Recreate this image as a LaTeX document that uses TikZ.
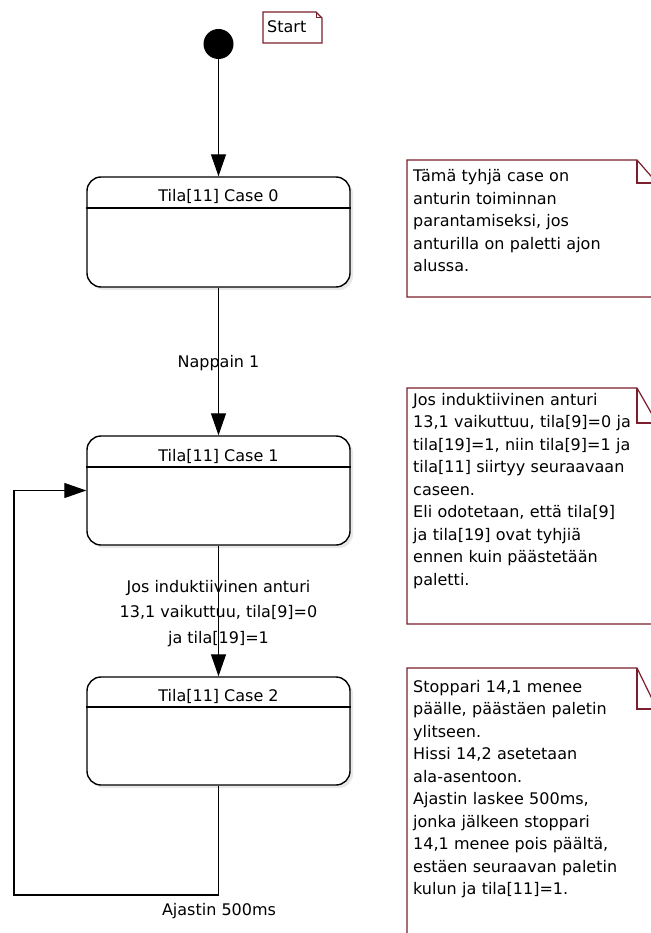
\documentclass[tikz,border=0pt]{standalone}
\usepackage{fontspec}
\setmainfont{DejaVu Sans}
\usetikzlibrary{arrows.meta,shadows}
\definecolor{noteline}{HTML}{7A1F2B}
\begin{document}
\begin{tikzpicture}[x=1pt,y=-1pt,
  txt/.style={font=\fontsize{16}{22.5}\selectfont, inner sep=0pt},
  statebox/.style={draw, line width=1.4pt, rounded corners=14pt, minimum width=263pt,
    inner sep=0pt, fill=white,
    drop shadow={shadow xshift=3pt, shadow yshift=-3pt, fill=gray!35}},
  flow/.style={line width=1.2pt, -{Triangle[length=22pt,width=15pt]}},
  notebox/.style={draw=noteline, line width=1.2pt, fill=white},
  notetext/.style={txt, anchor=base west, text width=235pt, align=left},
  edgelabel/.style={txt, anchor=base, align=center}
]
\useasboundingbox (0,0) rectangle (650,933);

% initial pseudo-state and start note
\node[circle, fill=black, minimum size=30pt, inner sep=0pt] (init) at (218.5,44) {};
\draw[notebox] (263,12) -- (316,12) -- (322,18) -- (322,43) -- (263,43) -- cycle;
\draw[draw=noteline, line width=1pt] (316,12) -- (316,18) -- (322,18);
\node[txt, anchor=base west] (startnote) at (267,33) {Start};

% states
\node[statebox, minimum height=110pt] (s0) at (218.5,232) {};
\node[statebox, minimum height=109pt] (s1) at (218.5,490.5) {};
\node[statebox, minimum height=108pt] (s2) at (218.5,731) {};

\draw[line width=1.4pt] (s0.west |- 0,208) -- (s0.east |- 0,208);
\draw[line width=1.4pt] (s1.west |- 0,467) -- (s1.east |- 0,467);
\draw[line width=1.4pt] (s2.west |- 0,707) -- (s2.east |- 0,707);

\node[txt, anchor=base] (h0) at (218.5,202) {Tila[11] Case 0};
\node[txt, anchor=base] (h1) at (218.5,461) {Tila[11] Case 1};
\node[txt, anchor=base] (h2) at (218.5,701) {Tila[11] Case 2};

% transitions
\draw[flow] (init) -- (s0);
\node[edgelabel] (l01) at (218.5,367) {Nappain 1};
\draw[flow] (s0) -- (s1);
\node[edgelabel] (l12a) at (218.5,592) {Jos induktiivinen anturi};
\node[edgelabel] (l12b) at (218.5,617) {13,1 vaikuttuu, tila[9]=0};
\node[edgelabel] (l12c) at (218.5,643) {ja tila[19]=1};
\draw[flow] (s1) -- (s2);

\coordinate (loopcorner) at (14,895);
\draw[flow] (s2.south) |- (loopcorner) |- (s1.west);
\node[edgelabel] (l21) at (219,915) {Ajastin 500ms};

% notes
\draw[notebox] (407,160) -- (637,160) -- (657,183) -- (657,297) -- (407,297) -- cycle;
\draw[draw=noteline, line width=1.2pt] (637,160) -- (637,183) -- (657,183);
\node[notetext] (n0) at (413,182) {Tämä tyhjä case on\\anturin toiminnan\\parantamiseksi, jos\\anturilla on paletti ajon\\alussa.};

\draw[notebox] (407,388) -- (637,388) -- (657,423) -- (657,624) -- (407,624) -- cycle;
\draw[draw=noteline, line width=1.2pt] (637,388) -- (637,423) -- (657,423);
\node[notetext] (n1) at (413,405) {Jos induktiivinen anturi\\13,1 vaikuttuu, tila[9]=0 ja\\tila[19]=1, niin tila[9]=1 ja\\tila[11] siirtyy seuraavaan\\caseen.\\Eli odotetaan, että tila[9]\\ja tila[19] ovat tyhjiä\\ennen kuin päästetään\\paletti.};

\draw[notebox] (407,668) -- (637,668) -- (657,709) -- (657,940) -- (407,940) -- cycle;
\draw[draw=noteline, line width=1.2pt] (637,668) -- (637,709) -- (657,709);
\node[notetext] (n2) at (413,692) {Stoppari 14,1 menee\\päälle, päästäen paletin\\ylitseen.\\Hissi 14,2 asetetaan\\ala-asentoon.\\Ajastin laskee 500ms,\\jonka jälkeen stoppari\\14,1 menee pois päältä,\\estäen seuraavan paletin\\kulun ja tila[11]=1.};
\end{tikzpicture}
\end{document}
